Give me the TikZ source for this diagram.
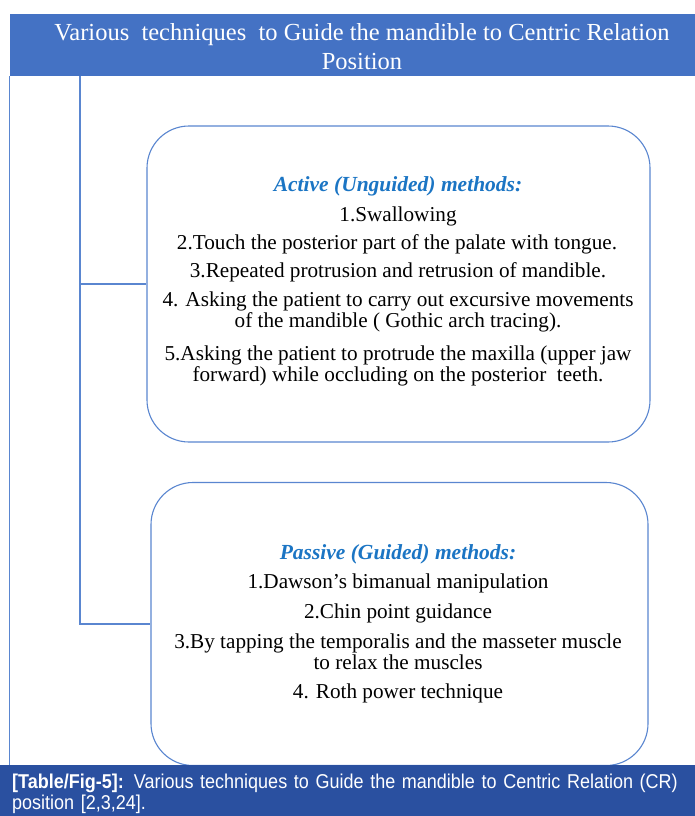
\documentclass[tikz,border=0pt]{standalone}
\usepackage{fontspec}
\setmainfont{Liberation Serif}
\newfontfamily\capfont[FakeStretch=0.9]{Liberation Sans}
\definecolor{hdrblue}{HTML}{4472C4}
\definecolor{boxblue}{HTML}{5A86D0}
\definecolor{capblue}{HTML}{2A50A0}
\definecolor{headblue}{HTML}{1B75C4}
\begin{document}
\begin{tikzpicture}[x=1pt,y=-1pt,
  box/.style={draw=boxblue, line width=1.1pt, rounded corners=42pt, fill=white},
  line/.style={draw=boxblue, line width=1.1pt},
  body/.style={font=\fontsize{21.2}{22}\selectfont, inner sep=0pt, anchor=base},
  heading/.style={font=\fontsize{21.5}{22}\selectfont\bfseries\itshape, text=headblue, inner sep=0pt, anchor=base},
  title/.style={font=\fontsize{24.5}{29}\selectfont, text=white, align=center, inner sep=0pt}]
\useasboundingbox (0,0) rectangle (695,816);
\fill[white] (0,0) rectangle (695,816);
% header
\node[fill=hdrblue, minimum width=685pt, minimum height=62pt, inner sep=0pt, anchor=north west] (hdr) at (10,14) {};
\node[title] (ttl) at (362,47) {Various\ \ techniques\ \ to Guide the mandible to Centric Relation\\Position};
% boxes
\node[box, minimum width=503pt, minimum height=316pt, inner sep=0pt] (act) at (398.5,284) {};
\node[box, minimum width=497pt, minimum height=283pt, inner sep=0pt] (pas) at (399.5,624) {};
% left frame line
\coordinate (fl) at (9,76);
\coordinate (fb) at (9,766);
\draw[line, line width=0.9pt] (fl) -- (fb);
% connectors
\coordinate (top) at (80,76);
\draw[line] (top) |- (act.west);
\draw[line] (top) |- (pas.west);
% active text
\node[heading] (ah) at (398,191) {Active (Unguided) methods:};
\node[body] (a1) at (398,221) {1.Swallowing};
\node[body] (a2) at (397,249) {2.Touch the posterior part of the palate with tongue.};
\node[body] (a3) at (398,277) {3.Repeated protrusion and retrusion of mandible.};
\node[body] (a4) at (398,306) {4. Asking the patient to carry out excursive movements};
\node[body] (a4b) at (398,327) {of the mandible ( Gothic arch tracing).};
\node[body] (a5) at (398,360) {5.Asking the patient to protrude the maxilla (upper jaw};
\node[body] (a5b) at (398,381) {forward) while occluding on the posterior\ \ teeth.};
% passive text
\node[heading] (ph) at (398,559) {Passive (Guided) methods:};
\node[body] (p1) at (398,588) {1.Dawson’s bimanual manipulation};
\node[body] (p2) at (398,618) {2.Chin point guidance};
\node[body] (p3) at (398,648) {3.By tapping the temporalis and the masseter muscle};
\node[body] (p3b) at (398,669) {to relax the muscles};
\node[body] (p4) at (398,698) {4. Roth power technique};
% caption
\node[fill=capblue, minimum width=695pt, minimum height=51pt, inner sep=0pt, anchor=north west] (cap) at (0,765) {};
\node[font=\capfont\fontsize{20}{21}\selectfont, text=white, align=left, anchor=north west, inner sep=0pt, text width=690pt] (ctx) at (12,774) {\textbf{[Table/Fig-5]:} Various techniques to Guide the mandible to Centric Relation (CR)\\position [2,3,24].};
\end{tikzpicture}
\end{document}
